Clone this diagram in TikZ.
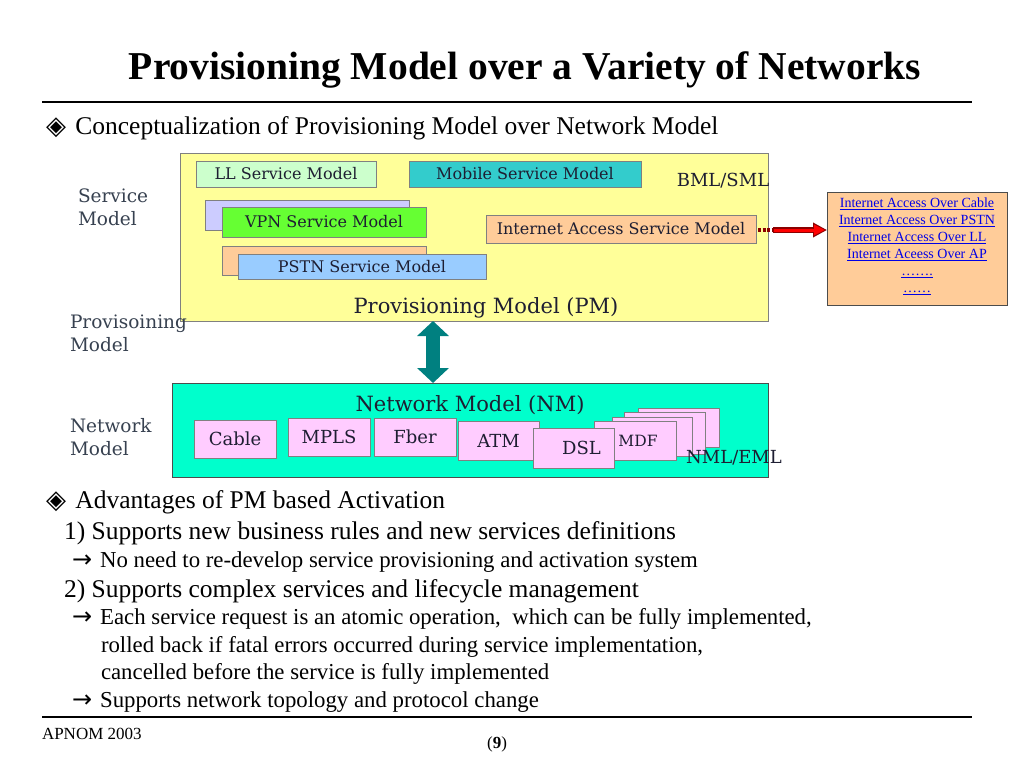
\documentclass[tikz,border=0pt]{standalone}
\usepackage{fontspec}
\setmainfont{Liberation Serif}
\newfontfamily\dia{DejaVu Serif}
\newfontfamily\sym{DejaVu Sans}
\usetikzlibrary{arrows.meta}
\definecolor{pmyellow}{RGB}{255,255,153}
\definecolor{llgreen}{RGB}{204,255,204}
\definecolor{mobteal}{RGB}{51,204,204}
\definecolor{lav}{RGB}{204,204,255}
\definecolor{vpngreen}{RGB}{102,255,51}
\definecolor{peach}{RGB}{255,204,153}
\definecolor{pstnblue}{RGB}{153,204,255}
\definecolor{nmaqua}{RGB}{0,255,204}
\definecolor{pinkbox}{RGB}{255,204,255}
\definecolor{boxedge}{RGB}{128,128,128}
\definecolor{labcol}{RGB}{55,65,80}
\definecolor{diatext}{RGB}{30,30,50}
\definecolor{linkblue}{RGB}{0,0,230}
\definecolor{arrteal}{RGB}{0,128,128}
\definecolor{darkred}{RGB}{140,0,0}
\newcommand{\myarrow}{{\sym\fontsize{24}{26}\selectfont →}\hspace{8pt}}
\newcommand{\mydiamond}{{\sym\fontsize{26}{28}\selectfont ◈}\hspace{3pt}}
\begin{document}
\begin{tikzpicture}[x=1pt,y=-1pt,
  every node/.style={inner sep=0pt,outer sep=0pt},
  smbox/.style={draw=boxedge,line width=0.8pt,anchor=north west,text=diatext,font=\dia\fontsize{16}{18}\selectfont},
  netbox/.style={draw=boxedge,line width=0.8pt,fill=pinkbox,anchor=north west,text=diatext,font=\dia\fontsize{18}{20}\selectfont},
  sidelab/.style={anchor=base west,text=labcol,font=\dia\fontsize{18.5}{23}\selectfont},
  bodytext/.style={anchor=base west,font=\fontsize{25.5}{28}\selectfont},
  subtext/.style={anchor=base west,font=\fontsize{22.8}{26}\selectfont}
]
\useasboundingbox (0,0) rectangle (1024,768);
\fill[white] (0,0) rectangle (1024,768);

% title and rules
\node[anchor=base,font=\bfseries\fontsize{39.5}{44}\selectfont] (title) at (525,79) {Provisioning Model over a Variety of Networks};
\draw[line width=1.2pt] (42,102) -- (972,102);
\draw[line width=1.2pt] (42,717) -- (972,717);

\node[bodytext] (concept) at (46,134) {\mydiamond\ Conceptualization of Provisioning Model over Network Model};

% provisioning model box
\node[draw=boxedge,line width=0.8pt,fill=pmyellow,anchor=north west,minimum width=588pt,minimum height=168pt] (pm) at (180,153) {};
\node[smbox,fill=llgreen,minimum width=180pt,minimum height=26pt] (ll) at (196,161) {LL Service Model};
\node[smbox,fill=mobteal,minimum width=232pt,minimum height=26pt] (mob) at (409,161) {Mobile Service Model};
\node[anchor=center,text=diatext,font=\dia\fontsize{18}{20}\selectfont] (bml) at (723,181) {BML/SML};
\node[smbox,fill=lav,minimum width=204pt,minimum height=30pt] (vpnback) at (205,200) {};
\node[smbox,fill=vpngreen,minimum width=204pt,minimum height=30pt] (vpn) at (222,207) {VPN Service Model};
\node[smbox,fill=peach,minimum width=204pt,minimum height=29pt] (pstnback) at (222,246) {};
\node[smbox,fill=pstnblue,minimum width=248pt,minimum height=25pt] (pstn) at (238,254) {PSTN Service Model};
\node[smbox,fill=peach,minimum width=270pt,minimum height=28pt] (ia) at (486,215) {Internet Access Service Model};
\node[anchor=center,text=diatext,font=\dia\fontsize{21}{24}\selectfont] (pmlabel) at (486,308) {Provisioning Model (PM)};

% side labels
\node[sidelab] (svclab1) at (78,202) {Service};
\node[sidelab] (svclab2) at (78,225) {Model};
\node[sidelab] (provlab1) at (70,328) {Provisoining};
\node[sidelab] (provlab2) at (70,351) {Model};
\node[sidelab] (netlab1) at (70,432) {Network};
\node[sidelab] (netlab2) at (70,455) {Model};

% right box with links
\node[draw=black!70,line width=0.8pt,fill=peach,anchor=north west,minimum width=180pt,minimum height=113pt] (rb) at (827,192) {};
\node[anchor=north,align=center,text=linkblue,font=\fontsize{14}{17}\selectfont] (links) at (917,198)
 {\underline{Internet Access Over Cable}\\\underline{Internet Access Over PSTN}\\\underline{Internet Access Over LL}\\\underline{Internet Aceess Over AP}\\\underline{…….}\\\underline{……}};

% red arrow
\coordinate (rstart) at ([xshift=17pt,yshift=-1pt]ia.east);
\coordinate (rend) at (rstart -| rb.west);
\draw[darkred,line width=4pt,dash pattern=on 3pt off 1.5pt] ([xshift=2pt]rstart -| ia.east) -- (rstart);
\draw[-{Triangle[length=14pt,width=14pt]},darkred,line width=5.5pt] (rstart) -- (rend);
\draw[-{Triangle[length=11pt,width=10pt]},red,line width=3pt] ([xshift=1pt]rstart) -- ([xshift=-2pt]rend);

% network model box
\node[draw=black!70,line width=0.8pt,fill=nmaqua,anchor=north west,minimum width=596pt,minimum height=94pt] (nm) at (172,383) {};

% double arrow
\draw[{Triangle[length=15pt,width=31pt]}-{Triangle[length=15pt,width=31pt]},arrteal,line width=14pt] (pm.south -| 433,0) -- (nm.north -| 433,0);

\node[anchor=center,text=diatext,font=\dia\fontsize{21}{24}\selectfont] (nmlabel) at (470,405) {Network Model (NM)};
\node[netbox,minimum width=82pt,minimum height=38pt] (cable) at (194,420) {Cable};
\node[netbox,minimum width=82pt,minimum height=38pt] (mpls) at (288,418) {MPLS};
\node[netbox,minimum width=82pt,minimum height=38pt] (fber) at (374,418) {Fber};
\node[netbox,minimum width=81pt,minimum height=39pt] (st3) at (638,408) {};
\node[netbox,minimum width=81pt,minimum height=42pt] (st2) at (624,412) {};
\node[netbox,minimum width=80pt,minimum height=39pt] (st1) at (612,417) {};
\node[netbox,minimum width=82pt,minimum height=39pt,font=\dia\fontsize{15.5}{17}\selectfont] (mdf) at (594,421) {\hspace*{12pt}MDF\hspace*{6pt}};
\node[netbox,minimum width=81pt,minimum height=39pt] (atm) at (458,421) {ATM};
\node[netbox,minimum width=81pt,minimum height=40pt] (dsl) at (533,428) {\hspace*{16pt}DSL};
\node[anchor=center,text=diatext,font=\dia\fontsize{18}{20}\selectfont] (nml) at (734,458) {NML/EML};

% bottom text
\node[bodytext] (adv) at (46,508) {\mydiamond\ Advantages of PM based Activation};
\node[bodytext] (l1) at (64,539) {1) Supports new business rules and new services definitions};
\node[subtext] (l1a) at (72,567) {\myarrow No need to re-develop service provisioning and activation system};
\node[bodytext] (l2) at (64,597) {2) Supports complex services and lifecycle management};
\node[subtext] (l2a) at (72,624) {\myarrow Each service request is an atomic operation,\ \ which can be fully implemented,};
\node[subtext] (l2b) at (101,652) {rolled back if fatal errors occurred during service implementation,};
\node[subtext] (l2c) at (101,679) {cancelled before the service is fully implemented};
\node[subtext] (l2d) at (72,707) {\myarrow Supports network topology and protocol change};

% footer
\node[anchor=base west,font=\fontsize{17}{19}\selectfont] (foot) at (42,739) {APNOM 2003};
\node[anchor=base,font=\fontsize{17}{19}\selectfont] (page) at (497,748) {(\textbf{9})};
\end{tikzpicture}
\end{document}
